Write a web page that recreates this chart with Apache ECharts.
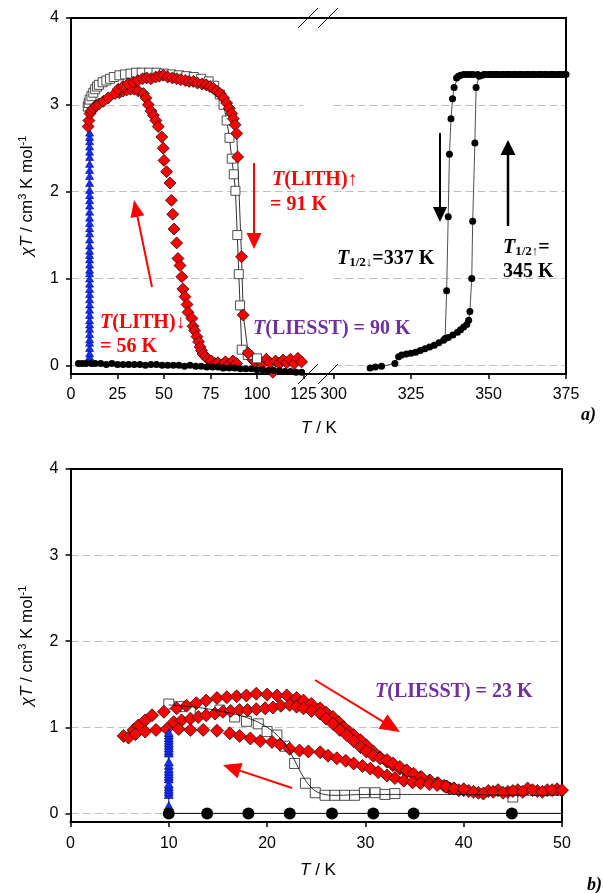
<!DOCTYPE html>
<html><head><meta charset="utf-8">
<script src="https://cdn.jsdelivr.net/npm/echarts@6/dist/echarts.min.js"></script>
<style>html,body{margin:0;padding:0;background:#fff}#c{width:603px;height:893px}</style>
</head><body><div id="c"></div>
<script>
// ---------- tick labels ----------
const yTicks = [0, 1, 2, 3, 4];
const xTicksTopLeft = [0, 25, 50, 75, 100, 125];
const xTicksTopRight = [300, 325, 350, 375];
const xTicksBottom = [0, 10, 20, 30, 40, 50];

// ---------- panel a) : T from 0 to 125 K ----------
const thermLowA = [[4,0.02],[6,0.02],[8,0.02],[11,0.02],[13,0.02],[16,0.02],[19,0.01],[22,0.02],[25,0.01],[28,0.01],[31,0.01],[34,0.01],[37,0.01],[40,0.0],[43,0.01],[46,0.01],[49,0.0],[52,0.0],[55,0.0],[58,0.0],[61,-0.01],[64,0.0],[67,-0.01],[70,-0.01],[73,-0.02],[76,-0.02],[79,-0.02],[82,-0.03],[85,-0.03],[88,-0.03],[91,-0.04],[94,-0.04],[97,-0.04],[100,-0.05],[103,-0.05],[106,-0.06],[109,-0.06],[112,-0.06],[115,-0.07],[118,-0.07],[121,-0.08],[124,-0.08]];
const irradTempA = 10;
const irradValuesA = [0.06,0.1,0.14,0.2,0.26,0.3,0.36,0.42,0.47,0.52,0.58,0.64,0.7,0.76,0.82,0.88,0.94,1.0,1.06,1.1,1.16,1.22,1.27,1.32,1.38,1.45,1.52,1.58,1.64,1.7,1.77,1.84,1.9,1.96,2.02,2.1,2.18,2.25,2.32,2.4,2.46,2.52,2.58,2.63,2.68];
const liesstA = [[9,2.98],[9.5,3.02],[10,3.06],[11,3.1],[12,3.14],[13,3.18],[14,3.21],[15,3.23],[17,3.26],[19,3.28],[21,3.3],[23,3.32],[26,3.34],[29,3.35],[32,3.36],[35,3.37],[38,3.37],[42,3.37],[46,3.37],[50,3.36],[54,3.35],[58,3.34],[62,3.33],[66,3.32],[70,3.3],[74,3.27],[77,3.22],[80,3.12],[82,3.0],[83.7,2.82],[85.2,2.62],[86.4,2.38],[87.5,2.2],[88.4,2.01],[89.4,1.5],[90.2,1.05],[90.9,0.69],[91.8,0.18],[95,0.12],[100,0.08]];
const lithUpA = [[9.2,2.75],[9.6,2.82],[10.2,2.9],[11,2.93],[12,2.96],[13.5,2.99],[15,3.01],[17.4,3.04],[20,3.08],[23.7,3.13],[25.4,3.18],[28,3.21],[30.7,3.24],[33.5,3.26],[36,3.28],[38.5,3.3],[40.7,3.31],[43,3.3],[45.5,3.32],[47.5,3.33],[49.6,3.34],[52,3.32],[54.5,3.31],[56.8,3.3],[59,3.29],[61.5,3.28],[63.5,3.27],[65.8,3.27],[68,3.25],[70.5,3.24],[72.7,3.23],[74.7,3.21],[76.5,3.19],[78.3,3.16],[80.1,3.13],[82,3.08],[83.7,3.02],[85.1,2.96],[86.4,2.9],[87.3,2.84],[88.2,2.77],[89.1,2.67],[89.6,2.4],[91.7,1.25],[92.6,0.58],[95.3,0.14]];
const lithDownA = [[26,3.14],[28,3.16],[29.9,3.17],[32,3.18],[34,3.18],[36.2,3.16],[38.9,3.13],[40.3,3.08],[41.6,3.0],[43,2.93],[44.3,2.88],[45.6,2.82],[46.9,2.75],[48.8,2.63],[49.6,2.5],[50,2.36],[51.4,2.23],[53.2,2.1],[54,1.9],[54.7,1.74],[55.4,1.57],[56.8,1.41],[57.5,1.23],[58.6,1.15],[59.6,1.02],[60.2,0.88],[61.3,0.79],[62.4,0.7],[62.9,0.61],[65,0.54],[65.6,0.45],[66.5,0.4],[67.7,0.33],[68.6,0.27],[69.4,0.21],[70.2,0.17],[71,0.13],[72.3,0.1],[73.7,0.07],[75.5,0.05],[77.4,0.02],[79,0.03],[81,0.0],[83,0.04],[85,0.01],[87,0.05],[89,0.02]];
const lithNoiseA = [[97,0.08],[99,0.04],[101,0.06],[103,0.02],[105,0.07],[107,0.03],[108.5,-0.08],[110,0.05],[112,0.02],[114,0.06],[116,0.03],[118,0.07],[120,0.02],[122,0.08],[124,0.04]];

// ---------- panel a) : T from 300 to 375 K ----------
const thermHeatA = [[311.8,-0.03],[313.5,-0.02],[315.5,-0.01],[319.8,0.02],[321,0.1],[322,0.12],[323.5,0.13],[325,0.14],[326.5,0.15],[328,0.17],[329.5,0.19],[331,0.21],[332.5,0.23],[334,0.26],[335.5,0.29],[337,0.32],[338.5,0.35],[340,0.38],[341,0.41],[342,0.44],[343,0.47],[343.6,0.52],[344,0.62],[344.6,1.0],[344.9,1.66],[345.6,2.56],[346,3.2],[347,3.33],[348,3.34],[349,3.35],[350,3.35],[351,3.35],[352,3.35],[353,3.35],[354,3.35],[355,3.35],[356,3.35],[357,3.35],[358,3.35],[359,3.35],[360,3.35],[361,3.35],[362,3.35],[363,3.35],[364,3.35],[365,3.35],[366,3.35],[367,3.35],[368,3.35],[369,3.35],[370,3.35],[371,3.35],[372,3.35],[373,3.35],[374,3.35],[375,3.35]];
const thermCoolA = [[374.5,3.35],[372.5,3.35],[370.5,3.35],[368.5,3.35],[366.5,3.35],[364.5,3.35],[362.5,3.35],[360.5,3.35],[358.5,3.35],[356.5,3.35],[354.5,3.35],[352.5,3.35],[350.5,3.35],[348.5,3.35],[346.5,3.35],[345,3.35],[344,3.35],[343,3.35],[342,3.35],[341,3.34],[340.3,3.33],[339.7,3.31],[338.9,3.2],[338.4,3.07],[337.9,2.84],[337.4,2.43],[337,1.71],[336.5,0.86],[336,0.31]];

// ---------- panel b) : T from 0 to 50 K ----------
const thermB = [[10,0],[13.9,0],[18.1,0],[22.3,0],[26.6,0],[30.8,0],[34.9,0],[44.9,0],[56,0]];
const irradTempB = 10;
const irradValuesB = [0.09,0.22,0.25,0.28,0.31,0.34,0.4,0.43,0.46,0.49,0.52,0.56,0.6,0.7,0.73,0.76,0.79,0.82,0.85,0.88,0.91,0.94];
const liesstB = [[10,1.27],[11.1,1.24],[13.2,1.22],[15.2,1.2],[16.7,1.12],[17.9,1.07],[19.1,1.04],[20,0.95],[21,0.91],[21.8,0.78],[22.8,0.58],[23.9,0.35],[24.9,0.24],[25.9,0.21],[26.9,0.21],[27.9,0.21],[28.9,0.21],[29.9,0.24],[31,0.24],[32,0.22],[33,0.23],[45,0.19]];
const liesstFitB = [[10,1.26],[13,1.23],[16,1.17],[18,1.11],[20,1.0],[21.5,0.85],[22.5,0.68],[23.5,0.46],[24.5,0.3],[25.5,0.23],[27,0.21],[30,0.22],[35,0.22],[40,0.22],[45,0.21],[51,0.21]];
const lithB1 = [[5.4,0.9],[6.4,0.97],[6.9,1.02],[7.6,1.08],[8.3,1.14],[9.5,1.18],[10.8,1.22],[11.8,1.25],[12.8,1.28],[13.8,1.31],[14.9,1.34],[15.9,1.35],[16.9,1.36],[17.9,1.37],[18.9,1.39],[20,1.38],[21,1.37],[22,1.37],[23,1.34],[23.7,1.31],[24.5,1.27],[25.4,1.22],[26,1.17],[26.7,1.12],[27.3,1.06],[27.8,1.0],[28.3,0.95],[28.8,0.91],[29.5,0.85],[30.1,0.79],[30.8,0.72],[31.5,0.65],[32.2,0.6],[32.8,0.56],[33.5,0.52],[34.2,0.48],[34.9,0.45],[35.6,0.42],[36.5,0.38],[37.3,0.35],[38,0.32],[38.6,0.29],[39.5,0.27],[40.5,0.26],[41.5,0.24],[42.5,0.26],[43.5,0.27],[44.5,0.25],[45.5,0.27],[46.5,0.29],[47.5,0.26],[48.5,0.27],[49.5,0.28]];
const lithB2 = [[10.5,1.06],[11.3,1.08],[12.2,1.1],[13,1.12],[13.8,1.14],[14.7,1.16],[15.5,1.18],[16.3,1.19],[17.2,1.2],[18,1.2],[18.9,1.21],[19.8,1.22],[20.6,1.23],[21.4,1.25],[22.3,1.26],[23,1.24],[23.7,1.22],[24.5,1.19],[25.4,1.16],[26,1.1],[26.7,1.04],[27.4,0.97],[28.1,0.91],[28.8,0.84],[29.5,0.77],[30.1,0.72],[30.8,0.67],[31.5,0.64],[32.2,0.62],[32.8,0.58],[33.5,0.54],[34.2,0.5],[34.9,0.46],[35.7,0.42],[36.6,0.38],[37.4,0.35],[38.3,0.31],[39,0.29],[40,0.27],[41,0.25],[42,0.23],[43,0.25],[44,0.24],[45,0.26],[46,0.25],[47,0.27],[48,0.25],[49,0.27],[50,0.27]];
const lithB3 = [[5.9,0.88],[6.6,0.92],[7.6,0.95],[8.7,0.97],[9.8,0.98],[11,0.98],[12.2,0.97],[13.5,0.97],[14.9,0.96],[16.2,0.93],[17.2,0.9],[18.3,0.87],[19.3,0.84],[20.5,0.83],[21.3,0.8],[22.3,0.75],[23.3,0.73],[24.2,0.72],[25.4,0.71],[26.2,0.67],[27.1,0.64],[28,0.61],[28.8,0.58],[29.7,0.55],[30.5,0.52],[31.3,0.48],[32.2,0.44],[33,0.41],[33.9,0.38],[34.8,0.36],[35.6,0.35],[36.5,0.34],[37.3,0.33],[38.2,0.31],[39,0.29],[40,0.28]];

// ---------- styling ----------
const SANS = "'Liberation Sans', Arial, sans-serif";
const SERIF = "'Liberation Serif', 'Times New Roman', serif";
const RED = '#FF0000', PURPLE = '#7030A0';
const lbl = {color:'#000', fontSize:16, fontFamily:SANS};
const axLine = {show:true, onZero:false, lineStyle:{color:'#000', width:2}};
const split = {show:true, lineStyle:{color:'#C0C0C0', width:1, type:[8,4]}};

function xAx(grid, min, max, ticks, margin) {
  return {gridIndex:grid, type:'value', min:min, max:max, interval:ticks[1]-ticks[0], position:'bottom',
    axisLine:axLine, axisTick:{show:true, length:5, lineStyle:{color:'#000', width:1.5}},
    axisLabel:Object.assign({margin:margin}, lbl), splitLine:{show:false}};
}
function topAx(grid, min, max) {
  return {gridIndex:grid, type:'value', min:min, max:max, position:'top', axisLine:axLine,
    axisTick:{show:false}, axisLabel:{show:false}, splitLine:{show:false}};
}
function yAx(grid, showLbl) {
  return {gridIndex:grid, type:'value', min:-0.1, max:4, position:'left',
    axisLine:{show:showLbl, onZero:false, lineStyle:{color:'#000', width:2}},
    axisTick:{show:showLbl, length:5, customValues:yTicks, lineStyle:{color:'#000', width:1.5}},
    axisLabel:Object.assign({show:showLbl, margin:12, customValues:yTicks}, lbl),
    splitLine:split};
}
function rightAx(grid) {
  return {gridIndex:grid, type:'value', min:-0.1, max:4, position:'right', axisLine:axLine,
    axisTick:{show:false}, axisLabel:{show:false}, splitLine:{show:false}};
}

const diamondStyle = {color:RED, borderColor:'#000', borderWidth:0.7, opacity:1};
const squareStyle = {color:'#fff', borderColor:'#222', borderWidth:0.8, opacity:1};
const triStyle = {color:'#1030FF', borderColor:'#000060', borderWidth:0.6, opacity:1};

function lineS(name, data, xi, yi, symbol, size, item, lineColor, lineW, smooth) {
  return {name:name, type:'line', xAxisIndex:xi, yAxisIndex:yi, data:data, symbol:symbol, symbolSize:size,
    showSymbol:true, showAllSymbol:true, itemStyle:item, smooth:smooth||false,
    lineStyle:{color:lineColor, width:lineW}, emphasis:{disabled:true}, clip:true};
}
function scatS(name, data, xi, yi, symbol, size, item) {
  return {name:name, type:'scatter', xAxisIndex:xi, yAxisIndex:yi, data:data, symbol:symbol,
    symbolSize:size, itemStyle:item, emphasis:{disabled:true}, clip:true};
}

const irradA = irradValuesA.map(v => [irradTempA, v]);
const irradB = irradValuesB.map(v => [irradTempB, v]);

const series = [
  // panel a) left
  lineS('LIESST a', liesstA, 0, 0, 'rect', 9, squareStyle, '#000', 0.8),
  lineS('irradiation a', irradA, 0, 0, 'triangle', [8,7], triStyle, '#000050', 1),
  lineS('LITH up a', lithUpA, 0, 0, 'diamond', 12, diamondStyle, '#000', 0.8),
  scatS('LITH down a', lithDownA, 0, 0, 'diamond', 12, diamondStyle),
  scatS('LITH noise a', lithNoiseA, 0, 0, 'diamond', 12, diamondStyle),
  lineS('thermal low a', thermLowA, 0, 0, 'circle', 7, {color:'#000'}, '#000', 0.8),
  // panel a) right
  lineS('thermal heating', thermHeatA, 1, 1, 'circle', 7, {color:'#000'}, '#222', 0.8),
  lineS('thermal cooling', thermCoolA, 1, 1, 'circle', 7, {color:'#000'}, '#222', 0.8),
  // panel b)
  lineS('LIESST fit b', liesstFitB, 2, 3, 'none', 0, {color:'#000'}, '#000', 0.8, 0.4),
  scatS('LIESST b', liesstB, 2, 3, 'rect', 10, squareStyle),
  lineS('irradiation b', irradB, 2, 3, 'triangle', [9,8], triStyle, '#000050', 1),
  scatS('LITH b1', lithB1, 2, 3, 'diamond', 13, diamondStyle),
  scatS('LITH b2', lithB2, 2, 3, 'diamond', 13, diamondStyle),
  scatS('LITH b3', lithB3, 2, 3, 'diamond', 13, diamondStyle),
  lineS('thermal b', thermB, 2, 3, 'circle', 12, {color:'#000'}, '#000', 1)
];

// ---------- annotations ----------
function txt(x, y, text, rich, opts) {
  opts = opts || {};
  return {type:'text', x:x, y:y, rotation:opts.rotation||0, z:100,
    style:{text:text, rich:rich, align:opts.align||'left', textAlign:opts.align||'left',
      verticalAlign:'middle', textVerticalAlign:'middle',
      fill:opts.fill||'#000', font:opts.font||('bold 20px '+SERIF)}};
}
function serifRich(color) {
  return {
    it:{fontFamily:SERIF, fontSize:20, fontWeight:'bold', fontStyle:'italic', fill:color, color:color},
    n:{fontFamily:SERIF, fontSize:20, fontWeight:'bold', fill:color, color:color},
    sub:{fontFamily:SERIF, fontSize:13, fontWeight:'bold', fill:color, color:color, verticalAlign:'bottom', padding:[6,0,0,0]}
  };
}
const axisRich = {
  it:{fontFamily:SANS, fontSize:17, fontStyle:'italic', fill:'#000', color:'#000'},
  n:{fontFamily:SANS, fontSize:17, fill:'#000', color:'#000'},
  sup:{fontFamily:SANS, fontSize:11, fill:'#000', color:'#000', verticalAlign:'top', padding:[0,0,8,0]}
};
function arrow(x1, y1, x2, y2, color, hl, hw, lw) {
  const dx = x2-x1, dy = y2-y1, L = Math.hypot(dx, dy), ux = dx/L, uy = dy/L;
  const bx = x2-ux*hl, by = y2-uy*hl, px = -uy, py = ux;
  return [
    {type:'line', z:100, shape:{x1:x1, y1:y1, x2:bx+ux*1, y2:by+uy*1}, style:{stroke:color, lineWidth:lw}},
    {type:'polygon', z:100, shape:{points:[[x2,y2],[bx+px*hw/2, by+py*hw/2],[bx-px*hw/2, by-py*hw/2]]}, style:{fill:color}}
  ];
}
function seg(x1, y1, x2, y2, w) {
  return {type:'line', z:100, shape:{x1:x1, y1:y1, x2:x2, y2:y2}, style:{stroke:'#000', lineWidth:w}};
}

const graphics = [].concat(
  // axis break bridges and marks
  [seg(303, 18, 334, 18, 2), seg(303, 374, 334, 374, 2),
   seg(298, 28, 318, 8, 1), seg(318, 28, 338, 8, 1),
   seg(298, 384, 318, 364, 1), seg(318, 384, 338, 364, 1)],
  arrow(254, 163, 254, 249, RED, 16, 15, 2),
  arrow(152, 287, 134, 200, RED, 17, 14, 2),
  arrow(440, 133, 440, 222, '#000', 15, 14, 2),
  arrow(508, 226, 508, 140, '#000', 15, 15, 2.5),
  arrow(315, 680, 400, 732, RED, 20, 17, 2),
  arrow(292, 788, 223, 765, RED, 18, 16, 2),
  [
    txt(272, 180, '{it|T}{n|(LITH)↑}', serifRich(RED)),
    txt(270, 205, '{n|= 91 K}', serifRich(RED)),
    txt(100, 323, '{it|T}{n|(LITH)↓}', serifRich(RED)),
    txt(100, 347, '{n|= 56 K}', serifRich(RED)),
    txt(253, 329, '{it|T}{n|(LIESST) = 90 K}', serifRich(PURPLE)),
    txt(337, 259, '{it|T}{sub|1/2↓}{n|=337 K}', serifRich('#000')),
    txt(503, 248, '{it|T}{sub|1/2↑}{n|=}', serifRich('#000')),
    txt(503, 272, '{n|345 K}', serifRich('#000')),
    txt(375, 692, '{it|T}{n|(LIESST) = 23 K}', serifRich(PURPLE)),
    txt(581, 415, 'a)', null, {font:'italic bold 18px '+SERIF}),
    txt(587, 885, 'b)', null, {font:'italic bold 18px '+SERIF}),
    txt(319, 428, '{it|T}{n| / K}', axisRich, {align:'center'}),
    txt(318, 870, '{it|T}{n| / K}', axisRich, {align:'center'}),
    txt(27, 196, '{it|χT}{n| / cm}{sup|3}{n| K mol}{sup|-1}', axisRich, {align:'center', rotation:Math.PI/2}),
    txt(27, 646, '{it|χT}{n| / cm}{sup|3}{n| K mol}{sup|-1}', axisRich, {align:'center', rotation:Math.PI/2})
  ]
);

const option = {
  animation:false,
  backgroundColor:'#fff',
  grid:[
    {left:71, top:18, width:232.5, height:356},
    {left:333.5, top:18, width:232.5, height:356},
    {left:70.5, top:469, width:491.5, height:353}
  ],
  xAxis:[
    xAx(0, 0, 125, xTicksTopLeft, 13),
    xAx(1, 300, 375, xTicksTopRight, 13),
    xAx(2, 0, 50, xTicksBottom, 14),
    topAx(0, 0, 125), topAx(1, 300, 375), topAx(2, 0, 50)
  ],
  yAxis:[
    yAx(0, true), yAx(1, false), rightAx(1), yAx(2, true), rightAx(2)
  ],
  series:series,
  graphic:graphics
};
const chart = echarts.init(document.getElementById('c'), null, {renderer:'canvas'});
chart.setOption(option);
</script></body></html>
